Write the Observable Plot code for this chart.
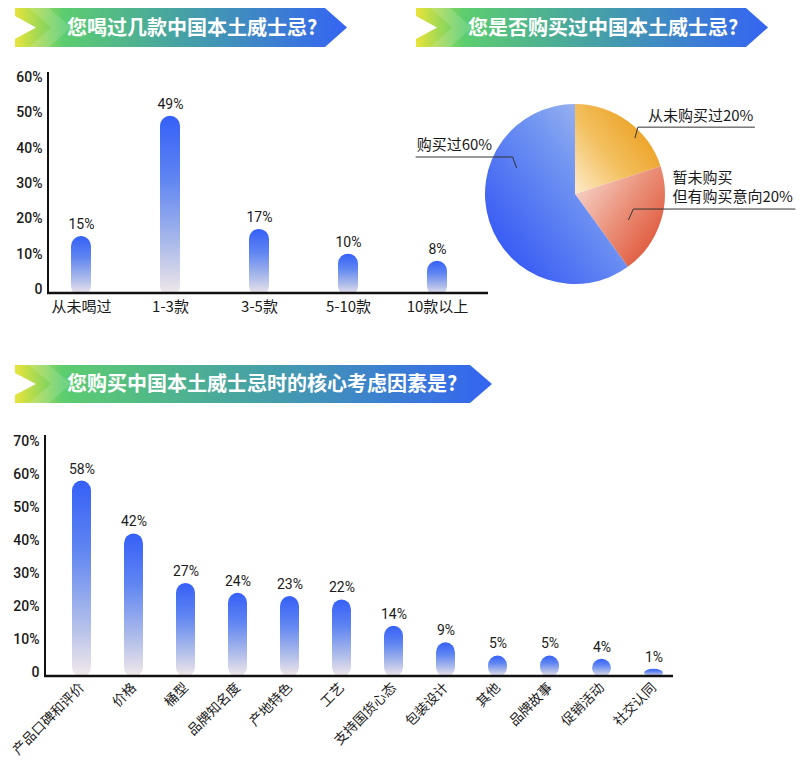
<!DOCTYPE html>
<html><head><meta charset="utf-8">
<script src="https://cdn.jsdelivr.net/npm/d3@7"></script>
<script src="https://cdn.jsdelivr.net/npm/@observablehq/plot@0.6"></script>
<style>
html,body{margin:0;padding:0;background:#fff;}
#root{position:relative;width:800px;height:773px;overflow:hidden;font-family:"Noto Sans CJK SC",sans-serif;}
#root > svg{position:absolute;}
</style></head><body><div id="root"></div>
<script>
// ---------- data ----------
const drinkCats = ["从未喝过", "1-3款", "3-5款", "5-10款", "10款以上"];
const drinkVals = [15, 49, 17, 10, 8];
const drinkTicks = [0, 10, 20, 30, 40, 50, 60];

const buyCats = ["从未购买过", "暂未购买\n但有购买意向", "购买过"];
const buyVals = [20, 20, 60];

const factorCats = ["产品口碑和评价", "价格", "桶型", "品牌知名度", "产地特色", "工艺", "支持国货心态", "包装设计", "其他", "品牌故事", "促销活动", "社交认同"];
const factorVals = [58, 42, 27, 24, 23, 22, 14, 9, 5, 5, 4, 1];
const factorTicks = [0, 10, 20, 30, 40, 50, 60, 70];

const titles = ["您喝过几款中国本土威士忌?", "您是否购买过中国本土威士忌?", "您购买中国本土威士忌时的核心考虑因素是?"];

// ---------- helpers ----------
const root = d3.select("#root");
const pctFmt = d => d === 0 ? "0" : d + "%";
const NUM_FONT = "Roboto, 'Noto Sans', sans-serif";
const CJK_FONT = "'Noto Sans CJK SC', sans-serif";

function place(node, left, top) {
  node.style.position = "absolute";
  node.style.left = left + "px";
  node.style.top = top + "px";
  root.node().appendChild(node);
}

const barDefs = () => {
  const g = d3.create("svg:defs");
  const lg = g.append("linearGradient").attr("id", "barGrad").attr("x1", 0).attr("x2", 0).attr("y1", 0).attr("y2", 1);
  [[0, "#3560f7"], [0.35, "#5f85f2"], [0.7, "#a9b9ea"], [1, "#f3e9ea"]].forEach(([o, c]) =>
    lg.append("stop").attr("offset", o).attr("stop-color", c));
  return g.node();
};

const frameLines = (index, scales, values, dims) => {
  const {width, height, marginLeft, marginRight, marginTop, marginBottom} = dims;
  const g = d3.create("svg:g");
  const x0 = marginLeft, x1 = width - marginRight, y0 = marginTop, y1 = height - marginBottom;
  g.append("line").attr("x1", x0).attr("x2", x0).attr("y1", y0).attr("y2", y1 + 1)
    .attr("stroke", "#111").attr("stroke-width", 2);
  g.append("line").attr("x1", x0 - 1).attr("x2", x1).attr("y1", y1).attr("y2", y1)
    .attr("stroke", "#111").attr("stroke-width", 2.5);
  return g.node();
};

function styleAxes(svg, xSize) {
  const s = d3.select(svg);
  s.selectAll('g[aria-label^="y-axis"] text')
    .style("font-family", NUM_FONT).style("font-size", "14px").style("font-weight", 500).style("fill", "#1a1a1a");
  s.selectAll('g[aria-label^="x-axis"] text')
    .style("font-family", CJK_FONT).style("font-size", xSize + "px").style("font-weight", 400).style("fill", "#1a1a1a");
}

function banner(x, y, w, h, text, id) {
  const svg = root.append("svg").attr("width", w + 2).attr("height", h + 2)
    .style("left", x + "px").style("top", y + "px");
  const lg = svg.append("defs").append("linearGradient").attr("id", id)
    .attr("gradientUnits", "userSpaceOnUse").attr("x1", 0).attr("x2", w).attr("y1", 0).attr("y2", 0);
  [[0, "#e9e33a"], [24 / w, "#9fd955"], [48 / w, "#5ccd6f"], [0.5, "#46a2a4"], [1, "#3464f3"]].forEach(([o, c]) =>
    lg.append("stop").attr("offset", o).attr("stop-color", c));
  const a = 22;
  svg.append("polygon").attr("points", [[0, 0], [w - a, 0], [w, h / 2], [w - a, h], [0, h]].join(" "))
    .attr("fill", `url(#${id})`);
  svg.append("polygon").attr("points", [[14, 0], [34, 0], [56, h / 2], [34, h], [14, h], [36, h / 2]].join(" "))
    .attr("fill", "#ffffff").attr("fill-opacity", 0.14);
  svg.append("polygon").attr("points", [[0, 8], [21, h / 2], [0, h - 8]].join(" ")).attr("fill", "#fff");
  svg.append("text").attr("x", 52).attr("y", h / 2).attr("dy", "0.36em")
    .attr("fill", "#fff").attr("font-family", CJK_FONT).attr("font-weight", 700).attr("font-size", 20)
    .text(text);
}

// ---------- banners ----------
banner(15, 8, 332, 39, titles[0], "bn1");
banner(416, 8, 352, 39, titles[1], "bn2");
banner(15, 365, 477, 38, titles[2], "bn3");

// ---------- chart 1 ----------
const drinkData = drinkCats.map((c, i) => ({cat: c, v: drinkVals[i]}));
const chart1 = Plot.plot({
  width: 500, height: 270,
  marginTop: 12, marginBottom: 37, marginLeft: 48, marginRight: 12,
  style: {fontFamily: NUM_FONT, fontSize: "14px", color: "#1a1a1a", background: "transparent", overflow: "visible"},
  x: {domain: drinkCats, range: [36.5, 481.5], paddingInner: 0.78, paddingOuter: 0.39, tickSize: 0, tickPadding: 8, label: null},
  y: {domain: [0, 60], range: [229, 17], ticks: drinkTicks, tickFormat: pctFmt, tickSize: 0, tickPadding: 6, label: null},
  marks: [
    barDefs,
    Plot.barY(drinkData, {x: "cat", y1: () => -2, y2: "v", fill: "url(#barGrad)", rx: 10, clip: true}),
    Plot.text(drinkData, {x: "cat", y: "v", text: d => d.v + "%", dy: -12, fontSize: 14, fill: "#1a1a1a"}),
    frameLines
  ]
});
styleAxes(chart1, 15);
place(chart1, 0, 60);

// ---------- chart 3 ----------
const factorData = factorCats.map((c, i) => ({cat: c, v: factorVals[i]}));
const chart3 = Plot.plot({
  width: 800, height: 353,
  marginTop: 15, marginBottom: 97, marginLeft: 45, marginRight: 127,
  style: {fontFamily: NUM_FONT, fontSize: "14px", color: "#1a1a1a", background: "transparent", overflow: "visible"},
  x: {domain: factorCats, range: [51.7, 682.7], paddingInner: 0.64, paddingOuter: 0.32, tickSize: 0, tickPadding: 9, tickRotate: -45, label: null},
  y: {domain: [0, 70], range: [252, 21], ticks: factorTicks, tickFormat: pctFmt, tickSize: 0, tickPadding: 6, label: null},
  marks: [
    Plot.barY(factorData, {x: "cat", y1: () => -1.5, y2: "v", fill: "url(#barGrad)", rx: 10, clip: true}),
    Plot.text(factorData, {x: "cat", y: "v", text: d => d.v + "%", dy: -12, fontSize: 14, fill: "#1a1a1a"}),
    frameLines
  ]
});
styleAxes(chart3, 13.5);
place(chart3, 0, 420);

// ---------- pie ----------
const buyData = buyCats.map((c, i) => ({cat: c, v: buyVals[i]}));
// label geometry (layout only): leader anchor angle (deg), radius fraction, elbow dx, side, line length, text offset
const pieLayout = [
  {angle: 47, rf: 0.91, ex: 3, side: 1, len: 117, tx: 10},
  {angle: 116, rf: 0.66, ex: 5, side: 1, len: 162, tx: 39},
  {angle: 294, rf: 0.71, ex: -4, side: -1, len: 97, tx: 1}
];
const pieGrads = [
  {x1: 0.05, y1: 1, x2: 0.95, y2: 0.25, stops: [[0, "#fde9c4"], [0.45, "#f3c060"], [1, "#eb9c1a"]]},
  {x1: 0, y1: 0.1, x2: 1, y2: 0.9, stops: [[0, "#f7dcd3"], [0.5, "#ea8f78"], [1, "#dd4a2c"]]},
  {x1: 1, y1: 0, x2: 0.1, y2: 0.85, stops: [[0, "#b9c8ee"], [0.45, "#7195f1"], [1, "#3558f5"]]}
];
const pieMark = (index, scales, values, dims) => {
  const {width, height, marginLeft, marginRight, marginTop, marginBottom} = dims;
  const iw = width - marginLeft - marginRight, ih = height - marginTop - marginBottom;
  const cx = marginLeft + iw / 2, cy = marginTop + ih / 2, r = Math.min(iw, ih) / 2;
  const g = d3.create("svg:g");
  const defs = g.append("defs");
  pieGrads.forEach((gr, i) => {
    const lg = defs.append("linearGradient").attr("id", "pieGrad" + i)
      .attr("x1", gr.x1).attr("y1", gr.y1).attr("x2", gr.x2).attr("y2", gr.y2);
    gr.stops.forEach(([o, c]) => lg.append("stop").attr("offset", o).attr("stop-color", c));
  });
  const arcs = d3.pie().sort(null).value(d => d.v)(buyData);
  const arc = d3.arc().innerRadius(0).outerRadius(r);
  const cg = g.append("g").attr("transform", `translate(${cx},${cy})`);
  cg.selectAll("path").data(arcs).join("path")
    .attr("d", arc).attr("fill", (d, i) => `url(#pieGrad${i})`);
  arcs.forEach((a, i) => {
    const L = pieLayout[i];
    const t = L.angle * Math.PI / 180;
    const px = Math.sin(t) * r * L.rf, py = -Math.cos(t) * r * L.rf;
    const ex = px + L.ex, ey = py - 11;
    const lx = ex + L.side * L.len;
    cg.append("polyline").attr("points", [[px, py], [ex, ey], [lx, ey]].join(" "))
      .attr("fill", "none").attr("stroke", "#333").attr("stroke-width", 1);
    const lines = a.data.cat.split("\n");
    lines[lines.length - 1] += a.data.v + "%";
    const tx = L.side > 0 ? ex + L.tx : lx + L.tx;
    lines.forEach((ln, j) => {
      cg.append("text").attr("x", tx).attr("y", ey - 12 - (lines.length - 1 - j) * 19).attr("dy", "0.36em")
        .attr("text-anchor", "start")
        .attr("font-family", CJK_FONT).attr("font-size", 15).attr("fill", "#1a1a1a").text(ln);
    });
  });
  return g.node();
};
const pie = Plot.plot({
  width: 400, height: 270,
  marginTop: 44, marginBottom: 46, marginLeft: 85, marginRight: 135,
  style: {background: "transparent", overflow: "visible"},
  marks: [pieMark]
});
place(pie, 400, 60);
</script></body></html>
